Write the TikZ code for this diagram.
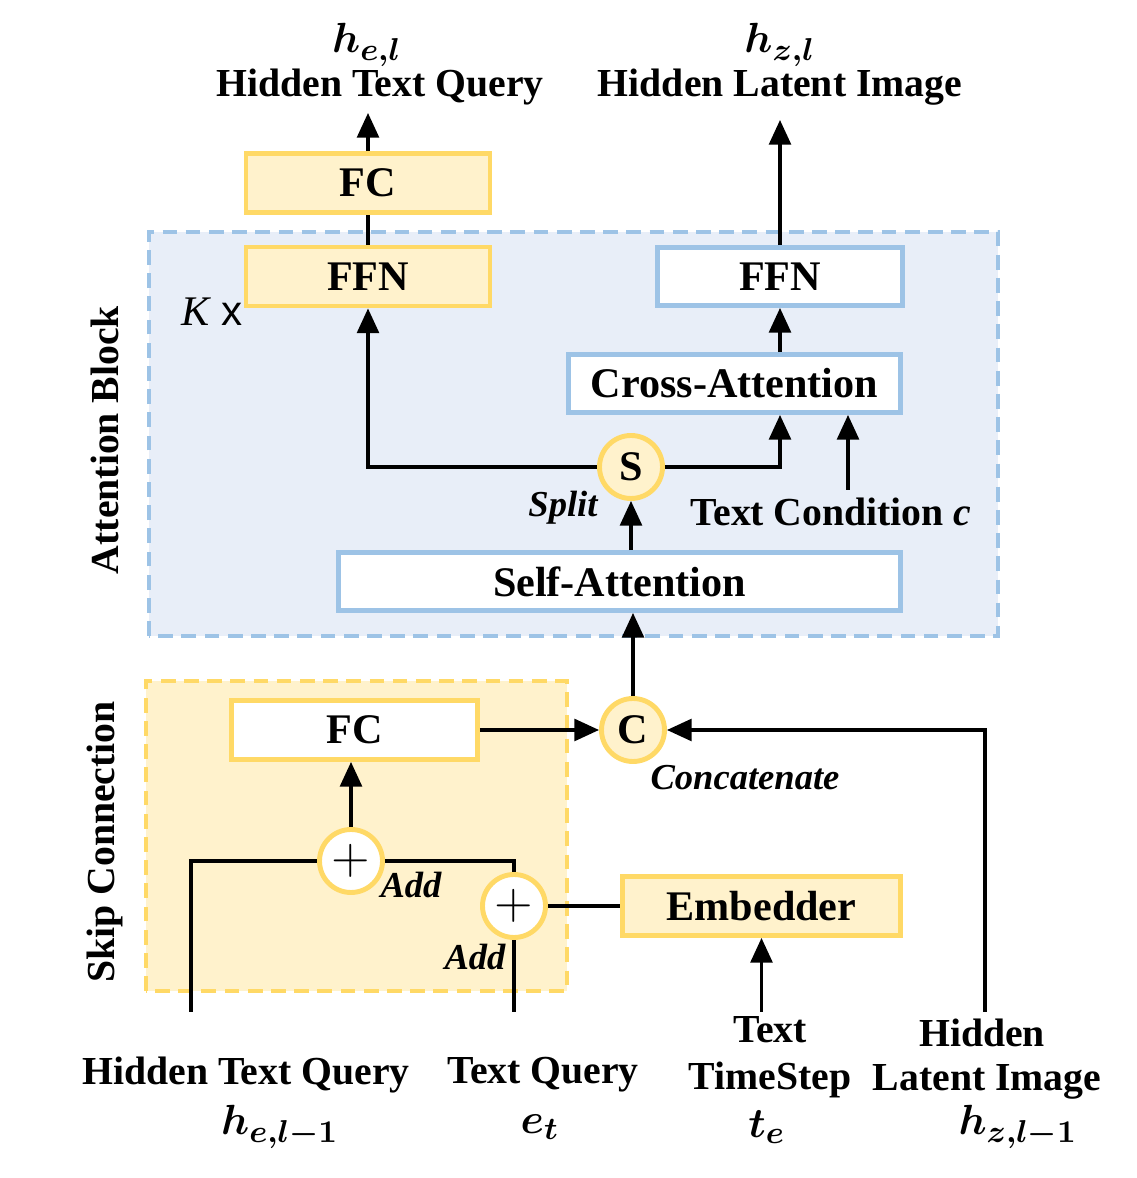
\documentclass[tikz,border=0pt]{standalone}
\usepackage{fontspec}
\setmainfont{Liberation Serif}
\setsansfont{Liberation Sans}
\usepackage{amsmath,bm}
\usetikzlibrary{arrows.meta}
\definecolor{ylwline}{HTML}{FFD966}
\definecolor{ylwfill}{HTML}{FFF2CC}
\definecolor{bluline}{HTML}{9DC3E6}
\definecolor{blufill}{HTML}{E8EEF8}
\begin{document}
\begin{tikzpicture}[
    font=\fontsize{12}{13}\selectfont\bfseries,
    ybox/.style={draw=ylwline, fill=ylwfill, line width=1.4pt, minimum height=0.59cm, inner sep=0pt},
    wybox/.style={ybox, fill=white},
    bbox/.style={draw=bluline, fill=white, line width=1.4pt, minimum height=0.58cm, inner sep=0pt},
    op/.style={circle, draw=ylwline, fill=ylwfill, line width=1.4pt, minimum size=0.63cm, inner sep=0pt},
    wop/.style={op, fill=white, font=\fontsize{14}{14}\selectfont\mdseries},
    lbl/.style={inner sep=0pt, font=\fontsize{11.3}{13}\selectfont\bfseries},
    ilbl/.style={lbl, font=\fontsize{10.4}{12}\selectfont\bfseries\itshape},
    mth/.style={inner sep=0pt, font=\fontsize{13}{13}\selectfont},
    arr/.style={line width=0.9pt, -{Triangle[length=7pt,width=6.2pt]}},
    ln/.style={line width=0.9pt}]
      \useasboundingbox (0, 0) rectangle (11.36, 11.78);
      % dashed blocks
      \draw [draw=bluline, fill=blufill, line width=1.1pt, dash pattern=on 4.2pt off 2.4pt]
            (1.49, 5.42) rectangle (9.98, 9.46);
      \draw [draw=ylwline, fill=ylwfill, line width=1.1pt, dash pattern=on 4.2pt off 2.4pt]
            (1.46, 1.87) rectangle (5.67, 4.97);
      \node (attnlbl) [lbl, rotate=90] at (1.05, 7.38) {Attention Block};
      \node (skiplbl) [lbl, rotate=90] at (1.05, 3.36) {Skip Connection};
      % boxes
      \node (fcTop) [ybox, minimum width=2.44cm] at (3.68, 9.95) {FC};
      \node (ffnL) [ybox, minimum width=2.44cm] at (3.68, 9.015) {FFN};
      \node (ffnR) [bbox, minimum width=2.45cm] at (7.80, 9.015) {FFN};
      \node (cross) [bbox, minimum width=3.32cm] at (7.345, 7.945) {Cross-Attention};
      \node (split) [op] at (6.31, 7.11) {S};
      \node (self) [bbox, minimum width=5.62cm] at (6.195, 5.965) {Self-Attention};
      \node (concat) [op] at (6.33, 4.48) {C};
      \node (fcBot) [wybox, minimum width=2.46cm] at (3.545, 4.48) {FC};
      \node (add1) [wop] at (3.51, 3.17) {$+$};
      \node (add2) [wop] at (5.14, 2.72) {$+$};
      \node (embed) [ybox, minimum width=2.78cm] at (7.615, 2.72) {Embedder};
      % labels
      \node (kx) [inner sep=0pt, font=\fontsize{12}{13}\selectfont] at (2.12, 8.66) {\textit{K} \textsf{x}};
      \node (splitlbl) [ilbl] at (5.63, 6.70) {Split};
      \node (condlbl) [lbl] at (8.31, 6.66) {Text Condition \textit{c}};
      \node (catlbl) [ilbl] at (7.45, 4.00) {Concatenate};
      \node (addlbl1) [ilbl] at (4.11, 2.93) {Add};
      \node (addlbl2) [ilbl] at (4.75, 2.21) {Add};
      \node (outHe) [mth] at (3.67, 11.33) {$\bm{h}_{\bm{e,l}}$};
      \node (outTQ) [lbl] at (3.80, 10.91) {Hidden Text Query};
      \node (outHz) [mth] at (7.80, 11.33) {$\bm{h}_{\bm{z,l}}$};
      \node (outLI) [lbl] at (7.80, 10.91) {Hidden Latent Image};
      \node (inTQ) [lbl] at (2.46, 1.03) {Hidden Text Query};
      \node (inHe) [mth] at (2.80, 0.51) {$\bm{h}_{\bm{e,l-1}}$};
      \node (inEQ) [lbl] at (5.43, 1.03) {Text Query};
      \node (inEt) [mth] at (5.40, 0.51) {$\bm{e}_{\bm{t}}$};
      \node (inTS1) [lbl] at (7.70, 1.48) {Text};
      \node (inTS2) [lbl] at (7.70, 0.98) {TimeStep};
      \node (inTe) [mth] at (7.67, 0.51) {$\bm{t}_{\bm{e}}$};
      \node (inLI1) [lbl] at (9.82, 1.45) {Hidden};
      \node (inLI2) [lbl] at (9.87, 0.96) {Latent Image};
      \node (inHz) [mth] at (10.18, 0.51) {$\bm{h}_{\bm{z,l-1}}$};
      % free ends
      \coordinate (topE) at (3.68, 10.65);
      \coordinate (topZ) at (7.80, 10.58);
      \coordinate (cond) at (8.48, 6.88);
      \coordinate (srcHe) at (1.91, 1.66);
      \coordinate (srcEt) at (5.14, 1.66);
      \coordinate (srcTe) at (7.615, 1.66);
      \coordinate (srcHz) at (9.85, 1.66);
      % connectors
      \draw [arr] (fcTop.north) -- (topE);
      \draw [ln] (ffnL.north) -- (fcTop.south);
      \draw [arr] (ffnR.north) -- (topZ);
      \draw [arr] (cross.north -| ffnR) -- (ffnR.south);
      \draw [arr] (split.west) -| (ffnL.south);
      \draw [arr] (split.east) -| (cross.south -| ffnR);
      \draw [arr] (cond) -- (cond |- cross.south);
      \draw [arr] (self.north -| split) -- (split.south);
      \draw [arr] (concat.north) -- (concat.north |- self.south);
      \draw [arr] (fcBot.east) -- (concat.west);
      \draw [arr] (srcHz) |- (concat.east);
      \draw [arr] (add1.north) -- (fcBot.south -| add1);
      \draw [ln] (srcHe) |- (add1.west);
      \draw [ln] (add1.east) -| (add2.north);
      \draw [ln] (srcEt) -- (add2.south);
      \draw [ln] (add2.east) -- (embed.west);
      \draw [arr] (srcTe) -- (embed.south);
\end{tikzpicture}
\end{document}
